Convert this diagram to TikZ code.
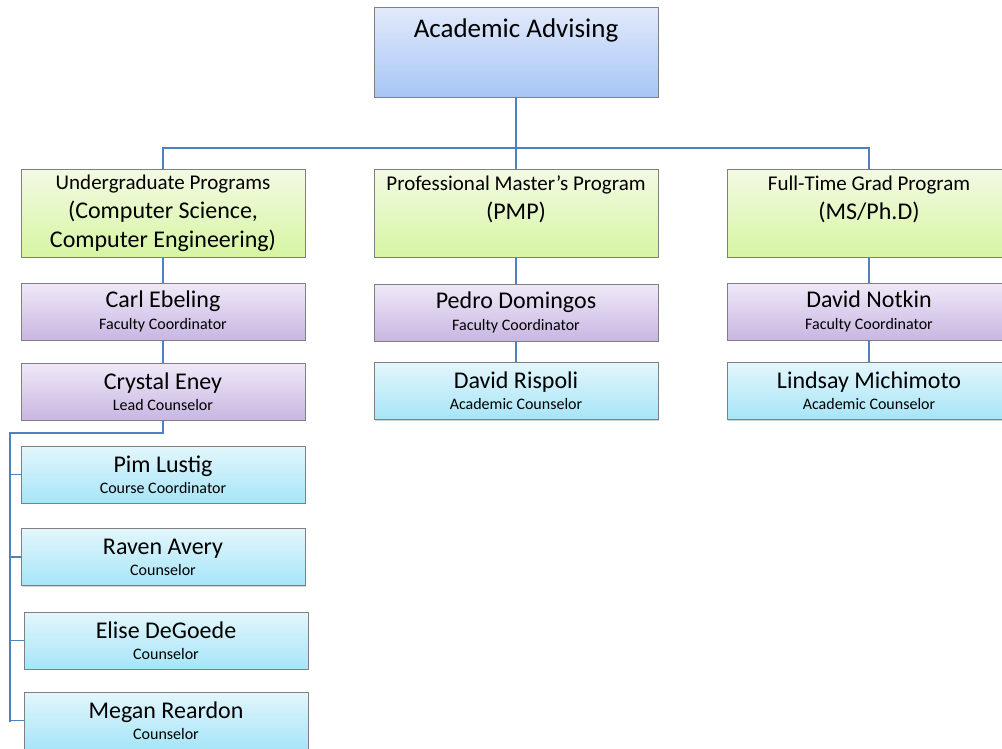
\documentclass[tikz,border=0pt]{standalone}
\usepackage{fontspec}
\setmainfont{Carlito}
\usetikzlibrary{shadows}

\definecolor{linkblue}{HTML}{4F81BD}
\definecolor{headtop}{HTML}{E2EAFA}
\definecolor{headbot}{HTML}{A7C5F7}
\definecolor{progtop}{HTML}{F3FAE4}
\definecolor{progbot}{HTML}{D6F5A2}
\definecolor{factop}{HTML}{F0E9F8}
\definecolor{facbot}{HTML}{C8B6E2}
\definecolor{stafftop}{HTML}{E3F6FC}
\definecolor{staffbot}{HTML}{A6E5F8}

\newcommand{\jobtitle}[1]{{\fontsize{16}{21.3}\selectfont #1}}

\begin{document}
\begin{tikzpicture}[x=1pt,y=-1pt,
    box/.style={rectangle,draw=black!50,minimum width=284pt,inner sep=0pt,align=center,
      drop shadow={shadow xshift=1.2pt,shadow yshift=-1.2pt,opacity=.35}},
    head box/.style={box,minimum height=90pt,top color=headtop,bottom color=headbot},
    prog box/.style={box,minimum height=88pt,top color=progtop,bottom color=progbot},
    prog text/.style={align=center,font=\fontsize{24}{29}\selectfont},
    fac box/.style={box,minimum height=57pt,top color=factop,bottom color=facbot,
      font=\fontsize{24}{21.3}\selectfont},
    staff box/.style={box,minimum height=57pt,top color=stafftop,bottom color=staffbot,
      font=\fontsize{24}{21.3}\selectfont},
    link/.style={draw=linkblue,line width=1.5pt}]

\useasboundingbox (0,0) rectangle (1002,748);
\clip (0,0) rectangle (1002,748);

% head
\node[head box] (advising) at (516,52) {};
\node[font=\fontsize{27}{32}\selectfont] (advisingtext) at ([yshift=22pt]advising.center) {Academic Advising};

% programs
\node[prog box,prog text] (ug) at (163,213)
  {{\fontsize{21}{29}\selectfont Undergraduate Programs}\\(Computer Science,\\Computer Engineering)};
\node[prog box] (pmp) at (516,213) {};
\node[prog text] (pmptext) at ([yshift=14pt]pmp.center)
  {{\fontsize{21}{29}\selectfont Professional Master’s Program}\\(PMP)};
\node[prog box] (fg) at (869,213) {};
\node[prog text] (fgtext) at ([yshift=14pt]fg.center)
  {{\fontsize{21}{29}\selectfont Full-Time Grad Program}\\(MS/Ph.D)};

% faculty coordinators
\node[fac box] (carl) at (163,311.5) {Carl Ebeling\\\jobtitle{Faculty Coordinator}};
\node[fac box] (pedro) at (516,312.5) {Pedro Domingos\\\jobtitle{Faculty Coordinator}};
\node[fac box] (notkin) at (869,311.5) {David Notkin\\\jobtitle{Faculty Coordinator}};

% counselors
\node[fac box] (crystal) at (163,391.5) {Crystal Eney\\\jobtitle{Lead Counselor}};
\node[staff box] (rispoli) at (516,391) {David Rispoli\\\jobtitle{Academic Counselor}};
\node[staff box] (michimoto) at (869,391) {Lindsay Michimoto\\\jobtitle{Academic Counselor}};

\node[staff box] (pim) at (163,474.5) {Pim Lustig\\\jobtitle{Course Coordinator}};
\node[staff box] (raven) at (163,557) {Raven Avery\\\jobtitle{Counselor}};
\node[staff box] (elise) at (166,640.5) {Elise DeGoede\\\jobtitle{Counselor}};
\node[staff box] (megan) at (166,720.5) {Megan Reardon\\\jobtitle{Counselor}};

% connectors
\coordinate (bus) at (0,148);
\coordinate (railtop) at (10,433);
\coordinate (railbot) at (10,722);

\draw[link] (advising.south) -- (advising.south |- bus);
\draw[link] (ug.north) |- (bus -| fg.north) -- (fg.north);
\draw[link] (pmp.north) -- (pmp.north |- bus);

\draw[link] (ug.south) -- (carl.north);
\draw[link] (carl.south) -- (crystal.north);
\draw[link] (pmp.south) -- (pedro.north);
\draw[link] (pedro.south) -- (rispoli.north);
\draw[link] (fg.south) -- (notkin.north);
\draw[link] (notkin.south) -- (michimoto.north);

\draw[link] (crystal.south) |- (railtop) -- (railbot);
\foreach \n in {pim,raven,elise,megan}
  \draw[link] (\n.west) -- (\n.west -| railtop);

\end{tikzpicture}
\end{document}
